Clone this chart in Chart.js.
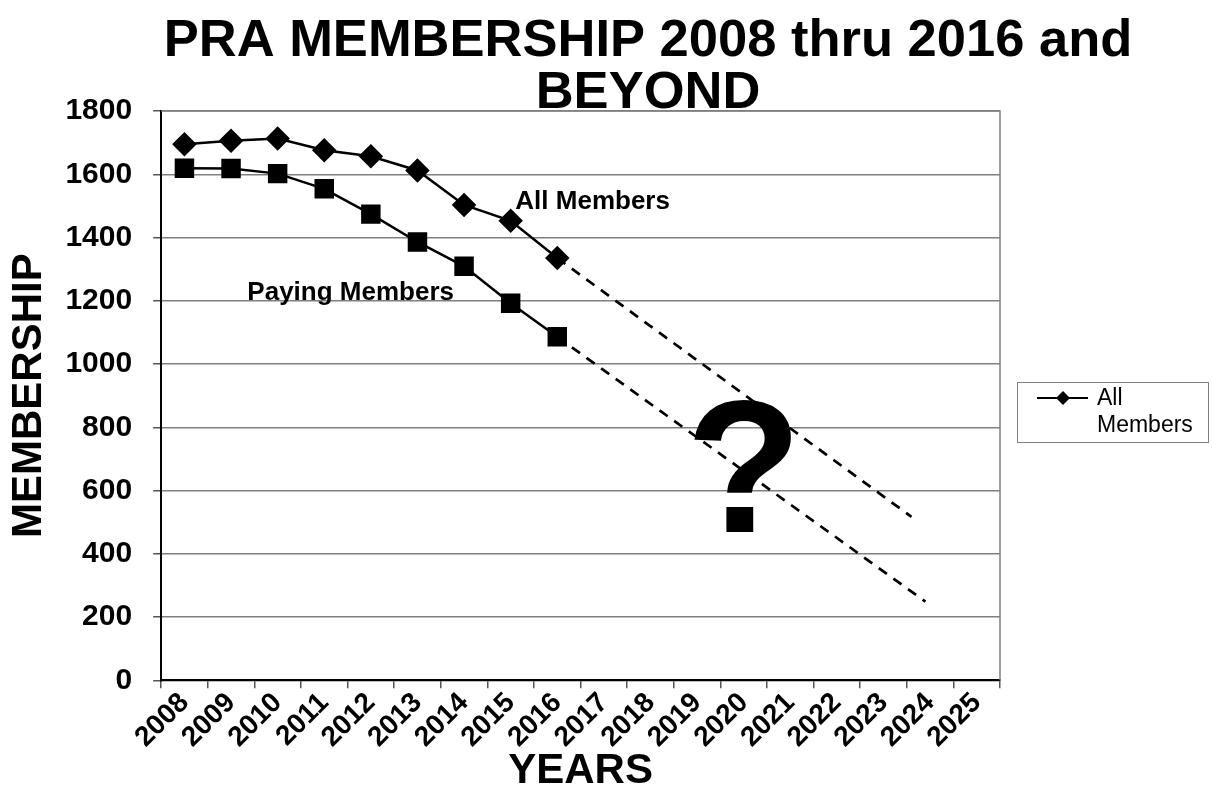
<!DOCTYPE html>
<html>
<head>
<meta charset="utf-8">
<title>PRA Membership</title>
<script src="https://cdn.jsdelivr.net/npm/chart.js@4.4.1/dist/chart.umd.min.js"></script>
<style>
  html, body { margin: 0; padding: 0; background: #fff; }
  #wrap { width: 1212px; height: 794px; }
</style>
</head>
<body>
<div id="wrap"><canvas id="membership"></canvas></div>
<script>
// annees de l'axe des x
const years = ['2008', '2009', '2010', '2011', '2012', '2013', '2014', '2015', '2016',
  '2017', '2018', '2019', '2020', '2021', '2022', '2023', '2024', '2025'];

// effectifs 2008 -> 2016
const allMembers = [1695, 1706, 1713, 1676, 1657, 1612, 1503, 1453, 1335];
const payingMembers = [1619, 1618, 1602, 1554, 1474, 1386, 1309, 1192, 1086];

// projections en pointillés (annee, valeur)
const allTrendYears = [2016, 2023.6];
const allTrendValues = [1335, 517];
const payTrendYears = [2016, 2023.9];
const payTrendValues = [1086, 249];

const FONT = "'Liberation Sans', Arial, sans-serif";

// textes posés dans le graphe (annee, valeur)
const notes = [
  { text: 'All Members', year: 2015.1, value: 1514, size: 26, align: 'left', baseline: 'middle' },
  { text: 'Paying Members', year: 2009.35, value: 1225, size: 26, align: 'left', baseline: 'middle' },
  { text: '?', year: 2020, value: 468, size: 190, align: 'center', baseline: 'alphabetic' }
];

const toPoints = (xs, ys) => xs.map((x, i) => ({ x: x, y: ys[i] }));

// titre, bordure, textes et legende dessinés à la main
const extras = {
  id: 'extras',
  beforeDatasetsDraw(chart) {
    const { ctx, chartArea } = chart;
    ctx.save();
    ctx.strokeStyle = '#808080';
    ctx.lineWidth = 1.5;
    ctx.beginPath();
    ctx.moveTo(chartArea.left, chartArea.top);
    ctx.lineTo(chartArea.right, chartArea.top);
    ctx.lineTo(chartArea.right, chartArea.bottom);
    ctx.stroke();
    ctx.restore();
  },
  afterDatasetsDraw(chart) {
    const { ctx } = chart;
    const xs = chart.scales.xt;
    const ys = chart.scales.y;
    ctx.save();
    ctx.fillStyle = '#000';
    notes.forEach(n => {
      ctx.font = 'bold ' + n.size + 'px ' + FONT;
      ctx.textAlign = n.align;
      ctx.textBaseline = n.baseline;
      ctx.fillText(n.text, xs.getPixelForValue(n.year), ys.getPixelForValue(n.value));
    });
    ctx.restore();
  },
  afterDraw(chart) {
    const { ctx, chartArea } = chart;
    ctx.save();
    // titre
    ctx.fillStyle = '#000';
    ctx.font = 'bold 52.5px ' + FONT;
    ctx.textAlign = 'center';
    ctx.textBaseline = 'middle';
    ctx.fillText('PRA MEMBERSHIP 2008 thru 2016 and', 648, 42);
    ctx.fillText('BEYOND', 648, 94);

    // legende
    const lx = chartArea.right + 17;
    const ly = 382;
    ctx.strokeStyle = '#808080';
    ctx.lineWidth = 1;
    ctx.strokeRect(lx + 0.5, ly + 0.5, 191, 60);
    ctx.strokeStyle = '#000';
    ctx.lineWidth = 2;
    ctx.beginPath();
    ctx.moveTo(lx + 20, ly + 16);
    ctx.lineTo(lx + 71, ly + 16);
    ctx.stroke();
    ctx.beginPath();
    ctx.moveTo(lx + 46, ly + 9);
    ctx.lineTo(lx + 53, ly + 16);
    ctx.lineTo(lx + 46, ly + 23);
    ctx.lineTo(lx + 39, ly + 16);
    ctx.closePath();
    ctx.fill();
    ctx.font = '23px ' + FONT;
    ctx.textAlign = 'left';
    ctx.fillText('All', lx + 80, ly + 17);
    ctx.fillText('Members', lx + 80, ly + 44);
    ctx.restore();
  }
};

const ctx = document.getElementById('membership').getContext('2d');
const chart = new Chart(ctx, {
  type: 'line',
  data: {
    labels: years,
    datasets: [
      {
        label: 'All Members',
        data: allMembers,
        borderColor: '#000',
        backgroundColor: '#000',
        borderWidth: 2.5,
        pointStyle: 'rectRot',
        pointRadius: 10.5,
        pointBackgroundColor: '#000',
        tension: 0
      },
      {
        label: 'Paying Members',
        data: payingMembers,
        borderColor: '#000',
        backgroundColor: '#000',
        borderWidth: 2.5,
        pointStyle: 'rect',
        pointRadius: 12,
        pointBackgroundColor: '#000',
        tension: 0
      },
      {
        label: 'All trend',
        data: toPoints(allTrendYears, allTrendValues),
        xAxisID: 'xt',
        borderColor: '#000',
        borderWidth: 2.7,
        borderDash: [10, 8],
        pointRadius: 0
      },
      {
        label: 'Paying trend',
        data: toPoints(payTrendYears, payTrendValues),
        xAxisID: 'xt',
        borderColor: '#000',
        borderWidth: 2.7,
        borderDash: [10, 8],
        pointRadius: 0
      }
    ]
  },
  options: {
    responsive: true,
    maintainAspectRatio: false,
    animation: false,
    layout: { padding: { top: 111, right: 212, left: 0, bottom: 0 } },
    plugins: {
      legend: { display: false },
      tooltip: { enabled: false },
      title: { display: false }
    },
    scales: {
      x: {
        type: 'category',
        offset: true,
        grid: { offset: true, drawOnChartArea: false, tickLength: 8, color: '#555', lineWidth: 1.5 },
        border: { color: '#000', width: 2 },
        ticks: {
          color: '#000',
          font: { family: FONT, size: 28, weight: 'bold', lineHeight: 1 },
          maxRotation: 45,
          minRotation: 45,
          autoSkip: false,
          padding: 0
        },
        title: {
          display: true,
          text: 'YEARS',
          color: '#000',
          font: { family: FONT, size: 42, weight: 'bold', lineHeight: 0.9 },
          padding: { top: 0, bottom: 4 }
        }
      },
      xt: {
        type: 'linear',
        display: false,
        min: 2007.5,
        max: 2025.5
      },
      y: {
        min: 0,
        max: 1800,
        ticks: {
          stepSize: 200,
          color: '#000',
          padding: 21,
          font: { family: FONT, size: 30, weight: 'bold' },
          callback: v => String(v)
        },
        grid: { color: '#808080', lineWidth: 1.5, tickLength: 8, tickColor: '#555' },
        border: { color: '#000', width: 2 },
        title: {
          display: true,
          text: 'MEMBERSHIP',
          color: '#000',
          font: { family: FONT, size: 42, weight: 'bold', lineHeight: 1.2 },
          padding: { top: 4, bottom: -10 }
        }
      }
    }
  },
  plugins: [extras]
});
</script>
</body>
</html>
